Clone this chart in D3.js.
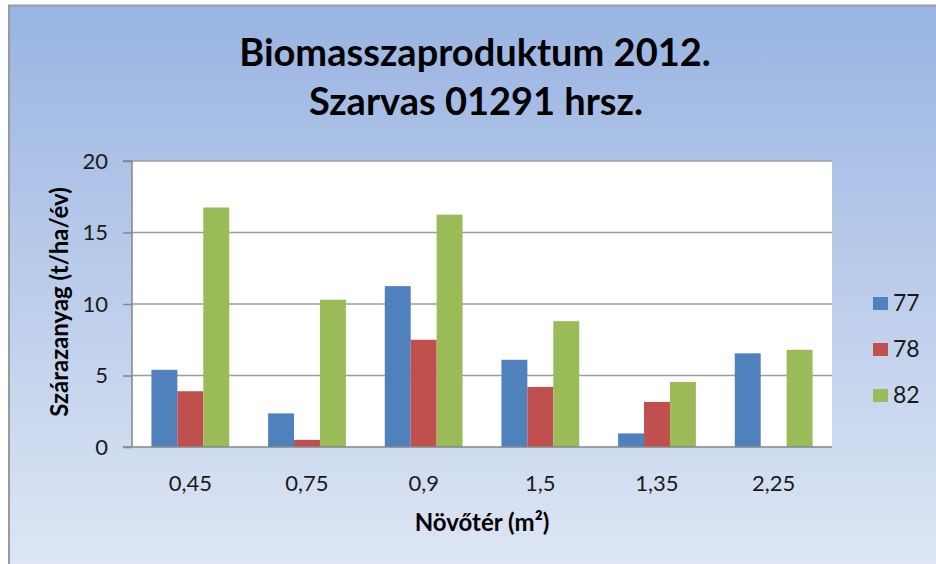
<!DOCTYPE html>
<html>
<head>
    <meta charset="utf-8">
    <title>Biomasszaproduktum 2012</title>
    <style>
        body { margin: 0; background: #fff; }
        text { font-family: Lato, "Open Sans", sans-serif; }
    </style>
    <script src="https://d3js.org/d3.v7.min.js"></script>
</head>
<body>
<script>

    let categories = ["0,45", "0,75", "0,9", "1,5", "1,35", "2,25"];
    let seriesNames = ["77", "78", "82"];
    let values77 = [5.4, 2.35, 11.25, 6.1, 0.95, 6.55];
    let values78 = [3.9, 0.5, 7.5, 4.2, 3.15, null];
    let values82 = [16.75, 10.3, 16.25, 8.8, 4.55, 6.8];
    let yTicks = [0, 5, 10, 15, 20];
    let colors = ["#4f81bd", "#c0504d", "#9bbb59"];

    let allValues = [values77, values78, values82];

    let width = 936, height = 564;
    let margin = { top: 161, left: 132, right: 104, bottom: 117 };

    let svg = d3.select("body").append("svg")
        .attr("width", width)
        .attr("height", height);

    // chart background with gradient
    let grad = svg.append("defs").append("linearGradient")
        .attr("id", "bg")
        .attr("x1", 0).attr("y1", 0).attr("x2", 0).attr("y2", 1);
    grad.append("stop").attr("offset", "0%").attr("stop-color", "#99b4e2");
    grad.append("stop").attr("offset", "100%").attr("stop-color", "#dfe7f4");

    svg.append("rect")
        .attr("x", 9).attr("y", 5.5)
        .attr("width", width + 10).attr("height", height + 10)
        .attr("fill", "url(#bg)")
        .attr("stroke", "#9a9a9a")
        .attr("stroke-width", 2);

    let x = d3.scaleBand()
        .domain(categories)
        .range([margin.left, width - margin.right]);

    let x1 = d3.scaleBand()
        .domain(seriesNames)
        .range([0, x.bandwidth()])
        .paddingInner(0)
        .paddingOuter(0.75);

    let y = d3.scaleLinear()
        .domain([0, 20])
        .range([height - margin.bottom, margin.top]);

    // plot area
    svg.append("rect")
        .attr("x", margin.left)
        .attr("y", margin.top)
        .attr("width", width - margin.left - margin.right)
        .attr("height", height - margin.top - margin.bottom)
        .attr("fill", "#fff");

    // gridlines
    svg.append("g")
        .selectAll("line")
        .data(yTicks.filter(d => d > 0))
        .join("line")
            .attr("x1", margin.left)
            .attr("x2", width - margin.right)
            .attr("y1", d => y(d))
            .attr("y2", d => y(d))
            .attr("stroke", "#9c9c9c")
            .attr("stroke-width", 1.5);

    // bars
    let rows = categories.map((c, i) => ({ cat: c, vals: seriesNames.map((s, j) => ({ key: s, idx: j, v: allValues[j][i] })) }));

    svg.append("g")
        .selectAll("g")
        .data(rows)
        .join("g")
            .attr("transform", d => `translate(${x(d.cat)},0)`)
        .selectAll("rect")
        .data(d => d.vals.filter(v => v.v != null))
        .join("rect")
            .attr("x", d => x1(d.key))
            .attr("y", d => y(d.v))
            .attr("width", x1.bandwidth())
            .attr("height", d => y(0) - y(d.v))
            .attr("fill", d => colors[d.idx]);

    // y axis
    let yAxis = svg.append("g")
        .attr("transform", `translate(${margin.left},0)`)
        .call(d3.axisLeft(y).tickValues(yTicks).tickSize(9).tickPadding(15).tickFormat(d3.format("d")));
    yAxis.selectAll("path, line").attr("stroke", "#868686").attr("stroke-width", 1.5);
    yAxis.selectAll("text").attr("font-size", 22).attr("fill", "#1a1a1a")
        .style("font-family", "Lato, sans-serif");
    yAxis.select(".domain").attr("d", `M-9,${y(20)}H0V${y(0)}`);

    // x axis
    let xAxis = svg.append("g")
        .attr("transform", `translate(0,${y(0)})`)
        .call(d3.axisBottom(x).tickSize(0).tickPadding(28));
    xAxis.selectAll("path").attr("stroke", "#868686").attr("stroke-width", 1.5)
        .attr("d", `M${margin.left - 9},0H${width - margin.right}`);
    xAxis.selectAll("text").attr("font-size", 22).attr("fill", "#1a1a1a")
        .style("font-family", "Lato, sans-serif");

    // titles
    svg.append("text")
        .attr("x", 475).attr("y", 66)
        .attr("text-anchor", "middle")
        .attr("font-size", 38).attr("font-weight", "bold")
        .text("Biomasszaproduktum 2012.");
    svg.append("text")
        .attr("x", 476).attr("y", 115)
        .attr("text-anchor", "middle")
        .attr("font-size", 38).attr("font-weight", "bold")
        .text("Szarvas 01291 hrsz.");

    svg.append("text")
        .attr("x", 482).attr("y", 531)
        .attr("text-anchor", "middle")
        .attr("font-size", 24).attr("font-weight", "bold")
        .text("Növőtér (m²)");

    svg.append("text")
        .attr("transform", "translate(68,302) rotate(-90)")
        .attr("text-anchor", "middle")
        .attr("font-size", 24).attr("font-weight", "bold")
        .text("Szárazanyag (t/ha/év)");

    // legend
    let legend = svg.append("g")
        .selectAll("g")
        .data(seriesNames)
        .join("g")
            .attr("transform", (d, i) => `translate(873,${297 + i * 46})`);
    legend.append("rect")
        .attr("width", 15).attr("height", 13)
        .attr("fill", (d, i) => colors[i]);
    legend.append("text")
        .attr("x", 20).attr("y", 14)
        .attr("font-size", 23)
        .attr("fill", "#1a1a1a")
        .text(d => d);

</script>
</body>
</html>
